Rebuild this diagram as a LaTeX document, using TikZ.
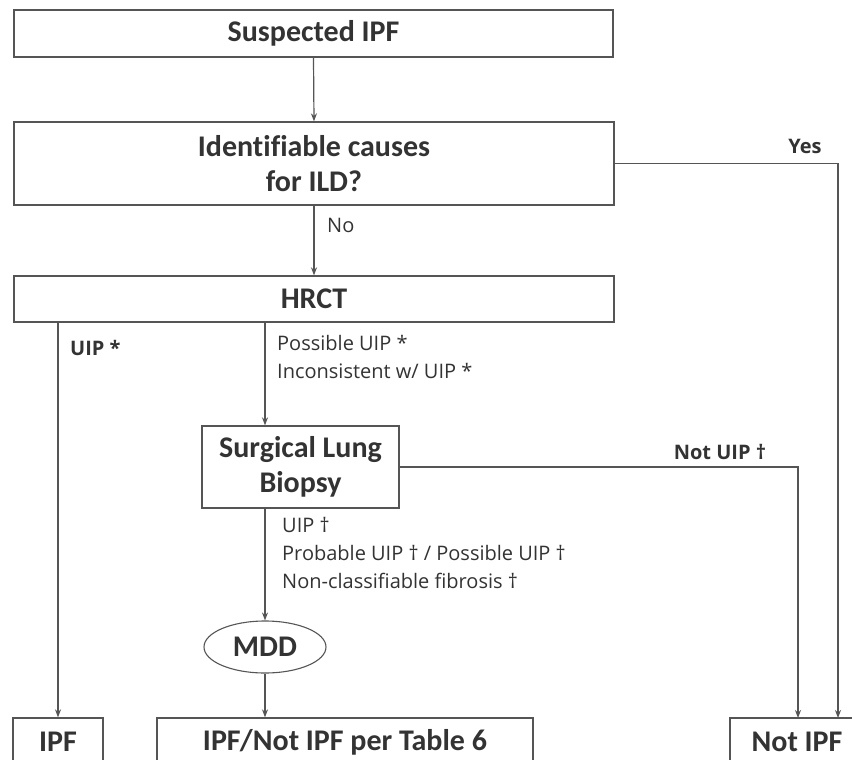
\documentclass[tikz,border=0pt]{standalone}
\usepackage{fontspec}
\setmainfont{Open Sans}
\newfontfamily\titlefont[Ligatures=NoCommon]{Carlito}
\usetikzlibrary{shapes.geometric,arrows.meta}
\definecolor{txt}{HTML}{333333}
\definecolor{ln}{HTML}{555555}
\tikzset{
  box/.style={draw=ln, line width=1.3pt, rectangle, inner sep=0pt, text=txt,
    font=\titlefont\bfseries\fontsize{30}{35}\selectfont, align=center},
  oval/.style={draw=ln, line width=1.1pt, ellipse, inner sep=0pt, text=txt,
    minimum width=122pt, minimum height=52pt, font=\titlefont\bfseries\fontsize{30}{35}\selectfont},
  arr/.style={draw=ln, line width=1.2pt, -{Stealth[length=8pt,width=6pt]}},
  lab/.style={text=txt, inner sep=0pt, font=\fontsize{20}{28}\selectfont, align=left},
  blab/.style={text=txt, inner sep=0pt, font=\bfseries\fontsize{20}{28}\selectfont}
}
\begin{document}
\begin{tikzpicture}[x=1pt,y=-1pt]
\useasboundingbox (0,0) rectangle (852,760);
\fill[white] (0,0) rectangle (852,760);
\node[box, minimum width=599pt, minimum height=47pt] (susp) at (313.5,33.5) {Suspected IPF};
\node[box, minimum width=600pt, minimum height=83pt] (ident) at (314,163.5) {Identifiable causes\\for ILD?};
\node[box, minimum width=600pt, minimum height=46pt] (hrct) at (314,299) {HRCT};
\node[box, minimum width=197pt, minimum height=82pt] (slb) at (300.5,467) {Surgical Lung\\Biopsy};
\node[oval] (mdd) at (265,647) {MDD};
\node[box, minimum width=90pt, minimum height=48pt] (ipf) at (58,742) {IPF};
\node[box, minimum width=376pt, minimum height=48pt] (tab) at (345,742) {IPF/Not IPF per Table 6};
\node[box, minimum width=134pt, minimum height=48pt] (notipf) at (797,742) {Not IPF};
\coordinate (yesend) at (838,718);
\coordinate (nuend) at (798,718);
% connectors
\draw[arr] (susp.south) -- (ident.north);
\draw[arr] (ident.south) -- (hrct.north);
\draw[arr] (ident.east) -| (yesend);
\draw[arr] (hrct.south -| ipf.north) -- (ipf.north);
\draw[arr] (hrct.south -| mdd.north) -- (slb.north -| mdd.north);
\draw[arr] (slb.south -| mdd.north) -- (mdd.north);
\draw[arr] (slb.east) -| (nuend);
\draw[arr] (mdd.south) -- (mdd.south |- tab.north);
% labels
\node[lab, anchor=west] (no) at (327,225) {No};
\node[blab] (yes) at (805,146) {Yes};
\node[blab, anchor=west] (uip) at (70,348) {UIP *};
\node[lab, anchor=north west] (poss) at (277,335) {Possible UIP *\\Inconsistent w/ UIP *};
\node[lab, anchor=north west] (slblab) at (282,517) {UIP †\\Probable UIP † / Possible UIP †\\Non-classifiable fibrosis †};
\node[blab] (nuip) at (720,452) {Not UIP †};
\end{tikzpicture}
\end{document}
